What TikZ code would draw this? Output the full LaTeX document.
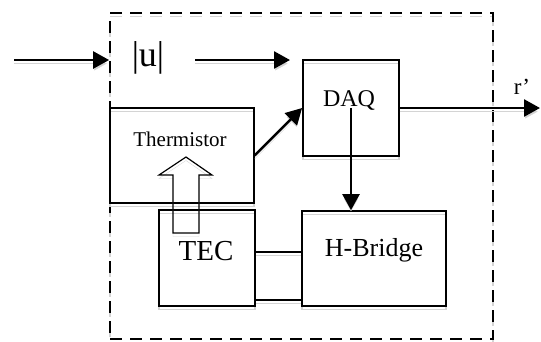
\documentclass[tikz,border=0pt]{standalone}
\usepackage{fontspec}
\setmainfont{Liberation Serif}
\usetikzlibrary{arrows.meta}
\begin{document}
\begin{tikzpicture}[x=1pt,y=-1pt,
  shad/.style={preaction={draw=black!17, transform canvas={yshift=-3.5pt}}},
  box/.style={draw, line width=1.8pt, shad, inner sep=0pt},
  arr/.style={line width=2.6pt, -{Triangle[length=16pt,width=17pt]}, shad},
  wire/.style={line width=1.6pt, shad},
  sysbox/.style={draw, line width=1.8pt, dash pattern=on 12pt off 8pt, shad, inner sep=0pt},
  lbl/.style={anchor=base, inner sep=0pt, font=\fontsize{#1}{#1}\selectfont}]
\useasboundingbox (0,0) rectangle (541,341);
% system boundary
\node[sysbox, minimum width=383pt, minimum height=326pt] (sys) at (301.5,176) {};
% blocks
\node[box, minimum width=96pt, minimum height=96pt] (daq) at (351,108) {};
\node[box, line width=1.3pt, minimum width=144pt, minimum height=95pt] (th) at (182,155.5) {};
\node[box, minimum width=96pt, minimum height=96pt] (tec) at (207,258) {};
\node[box, minimum width=144pt, minimum height=95pt] (hb) at (374,258.5) {};
% texts
\node[lbl=36] (ut) at (148,66.5) {|u|};
\node[lbl=24] (daqt) at (349,106.5) {DAQ};
\node[lbl=21] (tht) at (180,146.5) {Thermistor};
\node[lbl=29] (tect) at (206,260.5) {TEC};
\node[lbl=26] (hbt) at (374,256) {H-Bridge};
\node[lbl=23] (rt) at (522,94) {r’};
% connectors
\coordinate (inL) at (14,60);
\coordinate (uL) at (195,60);
\coordinate (uR) at (290,60);
\coordinate (out) at (540,108);
\draw[arr] (inL) -- (sys.west |- inL);
\draw[arr] (uL) -- (uR);
\draw[arr] (th.east) -- (daq.west);
\draw[arr] (daq.east) -- (out);
\draw[arr] (daq.center) -- (daq.center |- hb.north);
\draw[wire] ([yshift=6pt]tec.east) -- ([yshift=6pt]tec.east -| hb.west);
\draw[wire] ([yshift=-42pt]tec.east) -- ([yshift=-42pt]tec.east -| hb.west);
% hollow heat arrow
\draw[line width=1.2pt, shad] (173,233) -- (173,175) -- (159,175) -- (186,157) -- (212,175) -- (199,175) -- (199,233) -- cycle;
\end{tikzpicture}
\end{document}
